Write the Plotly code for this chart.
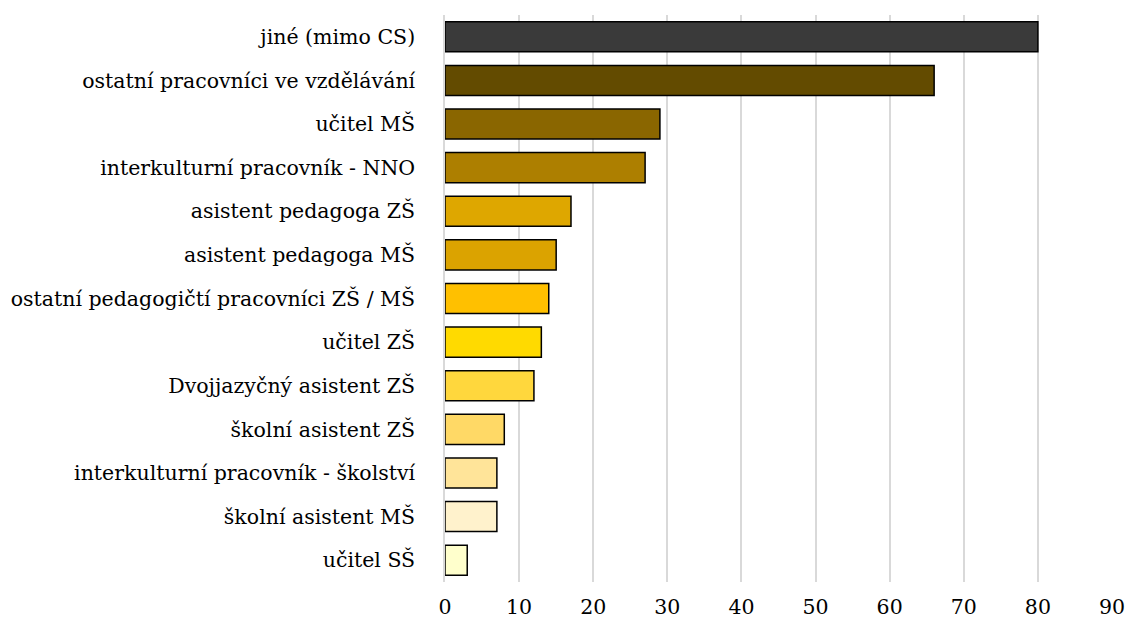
import plotly.graph_objects as go

categories = [
    "jiné (mimo CS)",
    "ostatní pracovníci ve vzdělávání",
    "učitel MŠ",
    "interkulturní pracovník - NNO",
    "asistent pedagoga ZŠ",
    "asistent pedagoga MŠ",
    "ostatní pedagogičtí pracovníci ZŠ / MŠ",
    "učitel ZŠ",
    "Dvojjazyčný asistent ZŠ",
    "školní asistent ZŠ",
    "interkulturní pracovník - školství",
    "školní asistent MŠ",
    "učitel SŠ",
]
values = [80, 66, 29, 27, 17, 15, 14, 13, 12, 8, 7, 7, 3]
colors = [
    "#3a3a3a", "#634b00", "#8a6600", "#ad7f00", "#dea700", "#dba300",
    "#ffc000", "#ffda00", "#ffd73d", "#ffd966", "#ffe499", "#fff2cc", "#ffffcc",
]
x_ticks = [0, 10, 20, 30, 40, 50, 60, 70, 80, 90]

fig = go.Figure(
    go.Bar(
        y=categories,
        x=values,
        orientation="h",
        marker=dict(color=colors, line=dict(color="#000000", width=1.5)),
    )
)

fig.update_layout(
    width=1128,
    height=626,
    margin=dict(l=445, r=16, t=15, b=44),
    plot_bgcolor="white",
    paper_bgcolor="white",
    bargap=0.31,
    showlegend=False,
    font=dict(family="DejaVu Serif", size=20.5, color="#000000"),
)
fig.update_xaxes(
    range=[0, 90],
    tickvals=x_ticks,
    showgrid=True,
    gridcolor="#d9d9d9",
    gridwidth=1.5,
    zeroline=False,
    showline=False,
    ticks="",
    ticklabelstandoff=10,
    automargin=False,
)
fig.update_yaxes(
    categoryorder="array",
    categoryarray=categories[::-1],
    showgrid=False,
    showline=True,
    linecolor="#d9d9d9",
    linewidth=1.5,
    ticks="",
    ticklabelstandoff=24,
    automargin=False,
)

fig.write_html("out.html")
